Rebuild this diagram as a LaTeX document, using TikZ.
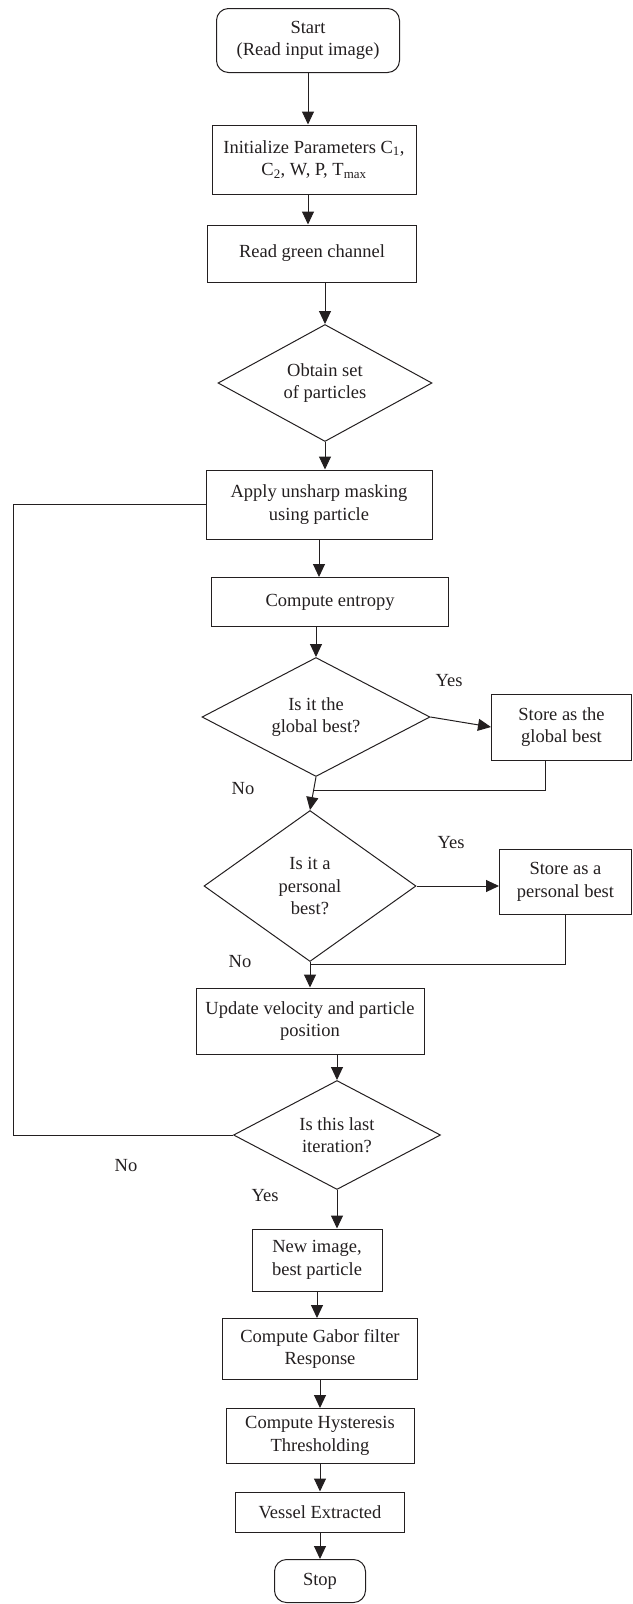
\documentclass[tikz,border=0pt]{standalone}
\usepackage{fontspec}
\setmainfont{Liberation Serif}
\usepackage{tikz}
\usetikzlibrary{shapes.geometric,arrows.meta}
\definecolor{ink}{RGB}{35,31,32}

\begin{document}
\begin{tikzpicture}[x=1pt,y=-1pt,
    every node/.style={font=\fontsize{18.5}{22.4}\selectfont, text=ink},
    proc/.style={draw=ink, line width=1pt, rectangle, align=center, inner sep=0pt},
    term/.style={proc, rounded corners=12pt},
    decide/.style={draw=ink, line width=1pt, diamond, aspect=2, align=center, inner sep=0pt},
    flow/.style={draw=ink, line width=1pt, -{Triangle[length=13pt,width=12pt]}},
    wire/.style={draw=ink, line width=1pt}]
  \useasboundingbox (0,0) rectangle (632,1604);

  \node[term, minimum width=183pt, minimum height=64pt] (start) at (308,40.5) {Start\\(Read input image)};
  \node[proc, minimum width=204pt, minimum height=69pt] (init) at (314,159.5) {Initialize Parameters C\textsubscript{1},\\C\textsubscript{2}, W, P, T\textsubscript{max}};
  \node[proc, minimum width=209pt, minimum height=57pt] (read) at (312,253.5) {Read green channel};
  \node[decide, minimum width=214pt, minimum height=117pt] (obtain) at (325,383) {Obtain set\\of particles};
  \node[proc, minimum width=226pt, minimum height=69pt] (apply) at (319,504.5) {Apply unsharp masking\\using particle};
  \node[proc, minimum width=237pt, minimum height=49pt] (entropy) at (330,602) {Compute entropy};
  \node[decide, minimum width=228pt, minimum height=119pt] (global) at (316,717) {Is it the\\global best?};
  \node[proc, minimum width=140pt, minimum height=66pt] (storeg) at (561.5,727) {Store as the\\global best};
  \node[decide, minimum width=212pt, minimum height=151pt] (personal) at (310,886) {Is it a\\personal\\best?};
  \node[proc, minimum width=132pt, minimum height=65pt] (storep) at (565.5,882) {Store as a\\personal best};
  \node[proc, minimum width=228pt, minimum height=66pt] (update) at (310,1021) {Update velocity and particle\\position};
  \node[decide, minimum width=207pt, minimum height=109pt] (last) at (337,1135) {Is this last\\iteration?};
  \node[proc, minimum width=130pt, minimum height=62pt] (newimg) at (317,1260) {New image,\\best particle};
  \node[proc, minimum width=195pt, minimum height=61pt] (gabor) at (320,1349) {Compute Gabor filter\\Response};
  \node[proc, minimum width=188pt, minimum height=55pt] (hyst) at (320,1436) {Compute Hysteresis\\Thresholding};
  \node[proc, minimum width=169pt, minimum height=40pt] (vessel) at (320,1512) {Vessel Extracted};
  \node[term, minimum width=91pt, minimum height=43pt] (stop) at (320,1581) {Stop};

  \node (yes1) at (449,681) {Yes};
  \node (no1) at (243,789) {No};
  \node (yes2) at (451,843) {Yes};
  \node (no2) at (240,962) {No};
  \node (no3) at (126,1166) {No};
  \node (yes3) at (265,1196) {Yes};

  \coordinate (gjoin) at (314,790);
  \coordinate (pjoin) at (310,964);
  \coordinate (loop) at (13.5,1135);

  \draw[flow] (start.south) -- (start.south |- init.north);
  \draw[flow] (start.south |- init.south) -- (start.south |- read.north);
  \draw[flow] (obtain.north |- read.south) -- (obtain.north);
  \draw[flow] (obtain.south) -- (obtain.south |- apply.north);
  \draw[flow] (apply.south) -- (apply.south |- entropy.north);
  \draw[flow] (global.north |- entropy.south) -- (global.north);
  \draw[flow] (global.east) -- (storeg.west);
  \draw[wire] ([xshift=-16pt]storeg.south) |- (gjoin);
  \draw[flow] (global.south) -- (personal.north);
  \draw[flow] (personal.east) -- (personal.east -| storep.west);
  \draw[wire] (storep.south) |- (pjoin);
  \draw[flow] (personal.south) -- (personal.south |- update.north);
  \draw[flow] (last.north |- update.south) -- (last.north);
  \draw[wire] (last.west) -- (loop) |- (apply.west);
  \draw[flow] (last.south) -- (last.south |- newimg.north);
  \draw[flow] (newimg.south) -- (newimg.south |- gabor.north);
  \draw[flow] (gabor.south) -- (hyst.north);
  \draw[flow] (hyst.south) -- (vessel.north);
  \draw[flow] (vessel.south) -- (stop.north);

\end{tikzpicture}
\end{document}
